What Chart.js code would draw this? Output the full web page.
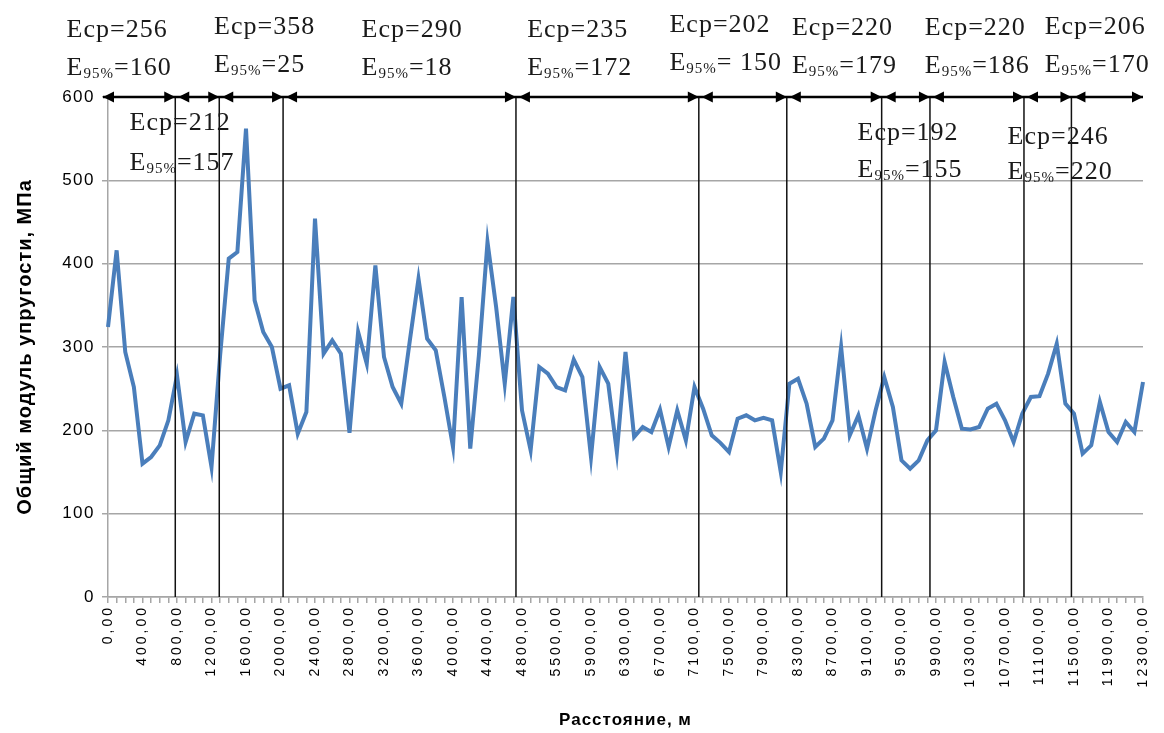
<!DOCTYPE html>
<html>
<head>
<meta charset="utf-8">
<script src="https://cdn.jsdelivr.net/npm/chart.js@4.4.1/dist/chart.umd.min.js"></script>
<style>
  html, body { margin: 0; padding: 0; background: #fff; }
  #wrap { width: 1164px; height: 733px; }
</style>
</head>
<body>
<div id="wrap"><canvas id="modulusChart" width="1164" height="733"></canvas></div>
<script>
// Distances along the road, m (one per measuring point)
const distances = [
    0, 100, 200, 300, 400, 500, 600, 700, 800, 900,
    1000, 1100, 1200, 1300, 1400, 1500, 1600, 1700, 1800, 1900,
    2000, 2100, 2200, 2300, 2400, 2500, 2600, 2700, 2800, 2900,
    3000, 3100, 3200, 3300, 3400, 3500, 3600, 3700, 3800, 3900,
    4000, 4100, 4200, 4300, 4400, 4500, 4600, 4700, 4800, 5200,
    5300, 5400, 5500, 5600, 5700, 5800, 5900, 6000, 6100, 6200,
    6300, 6400, 6500, 6600, 6700, 6800, 6900, 7000, 7100, 7200,
    7300, 7400, 7500, 7600, 7700, 7800, 7900, 8000, 8100, 8200,
    8300, 8400, 8500, 8600, 8700, 8800, 8900, 9000, 9100, 9200,
    9300, 9400, 9500, 9600, 9700, 9800, 9900, 10000, 10100, 10200,
    10300, 10400, 10500, 10600, 10700, 10800, 10900, 11000, 11100, 11200,
    11300, 11400, 11500, 11600, 11700, 11800, 11900, 12000, 12100, 12200,
    12300
];

// Total modulus of elasticity, MPa
const modulus = [
    324, 416, 294, 252, 160, 168, 182, 212, 266, 186,
    220, 218, 156, 290, 406, 414, 562, 356, 318, 300,
    250, 254, 196, 222, 454, 292, 308, 292, 197, 318,
    280, 398, 288, 252, 232, 308, 382, 310, 296, 240,
    180, 360, 178, 290, 426, 348, 256, 360, 224, 176,
    276, 268, 252, 248, 285, 264, 168, 276, 256, 174,
    294, 192, 204, 198, 225, 180, 224, 188, 252, 226,
    194, 185, 174, 214, 218, 212, 215, 212, 150, 256,
    262, 232, 180, 190, 212, 300, 194, 218, 178, 224,
    264, 228, 164, 154, 164, 188, 200, 282, 240, 202,
    201, 204, 226, 232, 212, 186, 220, 240, 241, 268,
    304, 232, 220, 172, 182, 234, 198, 186, 210, 198,
    258
];

const yTicks = [0, 100, 200, 300, 400, 500, 600];

// Section borders, in point index units
const sectionBounds = [0, 7.8, 12.9, 20.3, 47.3, 68.5, 78.7, 89.7, 95.3, 106.2, 111.7, 120];
const sectionEcp = ['256', '212', '358', '290', '235', '202', '220', '192', '220', '246', '206'];
const sectionE95 = ['160', '157', '25', '18', '172', ' 150', '179', '155', '186', '220', '170'];
// where each pair of captions sits: x in point index, y in MPa
const captionX = [-4.8, 2.5, 12.3, 29.4, 48.6, 65.1, 79.3, 86.9, 94.7, 104.3, 108.6];
const captionYEcp = [680, 568, 684, 680, 680, 686, 683, 556, 683, 552, 684];
const captionYE95 = [635, 521, 638, 635, 635, 641, 637, 512, 637, 510, 638];

const labels = distances.map(d => d.toFixed(2).replace('.', ','));

// letter spacing per axis (labels, title)
const axisSpacing = {
    x: { labels: '3px', title: '1px' },
    y: { labels: '1.5px', title: '1px' }
};

const spacingPlugin = {
    id: 'spacing',
    afterLayout(chart) {
        const c = chart.ctx;
        Object.values(chart.scales).forEach(scale => {
            if (scale._spaced) return;
            const sp = axisSpacing[scale.id];
            const drawLabels = scale.drawLabels;
            const drawTitle = scale.drawTitle;
            scale.drawLabels = function (area) {
                c.letterSpacing = sp.labels;
                drawLabels.call(this, area);
                c.letterSpacing = '0px';
            };
            scale.drawTitle = function (area) {
                c.letterSpacing = sp.title;
                drawTitle.call(this, area);
                c.letterSpacing = '0px';
            };
            scale._spaced = true;
        });
    }
};

const sectionPlugin = {
    id: 'sections',
    afterDatasetsDraw(chart) {
        const { ctx, scales: { x, y } } = chart;
        const yTop = y.getPixelForValue(600);
        const yBot = y.getPixelForValue(0);
        ctx.save();

        // section borders
        ctx.strokeStyle = '#111';
        ctx.lineWidth = 1.5;
        sectionBounds.slice(1, -1).forEach(b => {
            const px = x.getPixelForValue(b);
            ctx.beginPath();
            ctx.moveTo(px, yTop);
            ctx.lineTo(px, yBot);
            ctx.stroke();
        });

        // arrow line on top
        const head = (tip, dir) => {
            ctx.beginPath();
            ctx.moveTo(tip, yTop);
            ctx.lineTo(tip - dir * 11, yTop - 5.5);
            ctx.lineTo(tip - dir * 11, yTop + 5.5);
            ctx.closePath();
            ctx.fill();
        };
        ctx.strokeStyle = '#000';
        ctx.fillStyle = '#000';
        ctx.lineWidth = 2.5;
        const x0 = x.getPixelForValue(sectionBounds[0]) - 5;
        const x1 = x.getPixelForValue(sectionBounds[sectionBounds.length - 1]);
        ctx.beginPath();
        ctx.moveTo(x0, yTop);
        ctx.lineTo(x1, yTop);
        ctx.stroke();
        for (let i = 0; i < sectionBounds.length - 1; i++) {
            const a = x.getPixelForValue(sectionBounds[i]);
            const b = x.getPixelForValue(sectionBounds[i + 1]);
            head(i === 0 ? x0 : a + 3, -1);
            head(b, 1);
        }

        // captions
        ctx.fillStyle = '#1a1a1a';
        ctx.textAlign = 'left';
        ctx.textBaseline = 'middle';
        ctx.letterSpacing = '1px';
        const big = '26px "Liberation Serif", "Times New Roman", serif';
        const small = '15px "Liberation Serif", "Times New Roman", serif';
        sectionEcp.forEach((ecp, i) => {
            const px = x.getPixelForValue(captionX[i]);
            ctx.font = big;
            ctx.fillText('Еср=' + ecp, px, y.getPixelForValue(captionYEcp[i]));
            const py = y.getPixelForValue(captionYE95[i]);
            let cx = px;
            ctx.fillText('E', cx, py);
            cx += ctx.measureText('E').width;
            ctx.font = small;
            ctx.fillText('95%', cx, py + 6);
            cx += ctx.measureText('95%').width;
            ctx.font = big;
            ctx.fillText('=' + sectionE95[i], cx, py);
        });
        ctx.letterSpacing = '0px';
        ctx.restore();
    }
};

Chart.defaults.font.family = '"Liberation Sans", Arial, sans-serif';
Chart.defaults.color = '#000';

const ctx = document.getElementById('modulusChart').getContext('2d');
const modulusChart = new Chart(ctx, {
    type: 'line',
    data: {
        labels: labels,
        datasets: [{
            label: 'Общий модуль упругости',
            data: modulus,
            borderColor: '#4a7ebb',
            borderWidth: 4,
            pointRadius: 0,
            tension: 0,
            fill: false
        }]
    },
    options: {
        responsive: false,
        animation: false,
        layout: { padding: { left: 13, top: 97, right: 21, bottom: 2 } },
        plugins: {
            legend: { display: false },
            tooltip: { enabled: false }
        },
        scales: {
            x: {
                type: 'category',
                offset: false,
                grid: { drawOnChartArea: false, drawTicks: true, tickLength: 6, color: '#a6a6a6', lineWidth: 1.5 },
                border: { color: '#a6a6a6', width: 1.5 },
                ticks: {
                    autoSkip: false,
                    minRotation: 90,
                    maxRotation: 90,
                    padding: 2,
                    font: { size: 14 },
                    callback: (v, i) => (i % 4 === 0 ? labels[i] : '')
                },
                title: {
                    display: true,
                    text: 'Расстояние, м',
                    font: { size: 17, weight: 'bold' },
                    padding: 0
                },
                afterFit: scale => { scale.height = 134; }
            },
            y: {
                min: 0,
                max: 600,
                afterBuildTicks: scale => { scale.ticks = yTicks.map(v => ({ value: v })); },
                grid: { color: '#a6a6a6', lineWidth: 1.5, tickLength: 6 },
                border: { color: '#a6a6a6', width: 1.5 },
                ticks: { padding: 7, font: { size: 17 } },
                title: {
                    display: true,
                    text: 'Общий модуль упругости, МПа',
                    font: { size: 20, weight: 'bold' },
                    padding: 0
                },
                afterFit: scale => { scale.width = 95; }
            }
        }
    },
    plugins: [spacingPlugin, sectionPlugin]
});
</script>
</body>
</html>
